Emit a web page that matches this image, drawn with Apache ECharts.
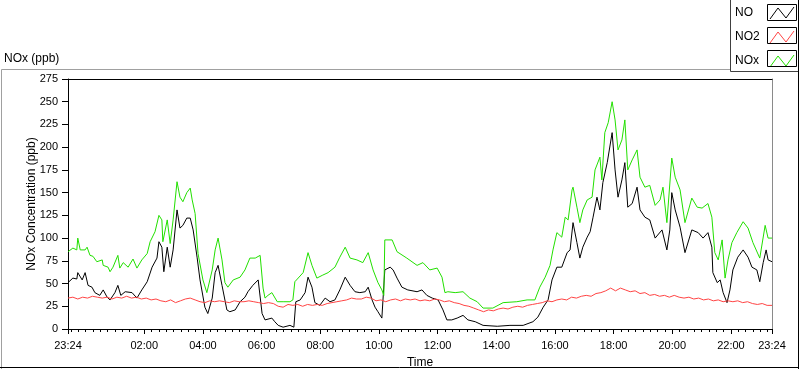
<!DOCTYPE html>
<html><head><meta charset="utf-8">
<script src="https://cdn.jsdelivr.net/npm/echarts@6/dist/echarts.min.js"></script>
<style>html,body{margin:0;padding:0;background:#fff}#c{width:800px;height:369px}</style>
</head><body><div id="c"></div>
<script>
// time values are minutes after the first sample (23:24)
const startClock = 23 * 60 + 24;
const seriesNames = ['NO', 'NO2', 'NOx'];
const seriesColors = ['#000000', '#ff4444', '#22e000'];
const xLabelMinutes = [0, 156, 276, 396, 516, 636, 756, 876, 996, 1116, 1236, 1356, 1440];
const yMin = 0, yMax = 275, yStep = 25;

const noData = [[0,51],[10,56],[18,55],[20,62],[29,54],[35,62],[41,48],[49,46],[55,40],[65,37],[72,43],[80,35],[86,32],[96,40],[102,48],[108,37],[117,41],[131,40],[141,34],[151,43],[162,52],[172,68],[182,78],[186,96],[192,90],[196,63],[203,90],[209,68],[215,87],[223,131],[229,111],[235,114],[243,122],[250,122],[256,109],[264,79],[270,54],[280,24],[286,17],[295,34],[301,62],[307,70],[315,48],[325,21],[331,19],[342,21],[352,30],[362,35],[368,41],[378,48],[389,54],[393,52],[397,17],[403,10],[407,10],[417,12],[423,8],[430,4],[440,2],[454,4],[462,2],[466,30],[475,32],[485,40],[491,57],[499,46],[505,29],[515,26],[526,34],[536,30],[546,32],[556,43],[567,57],[577,48],[587,41],[597,40],[608,41],[614,46],[622,32],[628,24],[634,19],[642,12],[646,13],[648,65],[659,68],[665,65],[673,56],[683,46],[695,43],[714,41],[724,43],[734,37],[745,34],[757,32],[767,21],[775,10],[785,10],[796,12],[808,15],[818,10],[833,8],[849,4],[878,3],[904,4],[931,4],[951,8],[961,13],[972,24],[982,32],[990,54],[1000,68],[1010,68],[1021,84],[1027,87],[1033,117],[1041,95],[1047,78],[1053,90],[1062,101],[1068,107],[1074,123],[1082,145],[1088,131],[1094,161],[1103,183],[1113,216],[1119,175],[1125,145],[1133,164],[1139,183],[1145,134],[1154,138],[1164,156],[1170,131],[1180,123],[1190,120],[1201,100],[1215,109],[1225,87],[1231,109],[1235,150],[1242,131],[1252,112],[1262,84],[1276,109],[1289,106],[1299,100],[1309,106],[1317,90],[1319,62],[1328,51],[1334,54],[1340,40],[1348,29],[1354,43],[1360,65],[1370,79],[1381,87],[1391,79],[1399,68],[1409,65],[1415,52],[1422,73],[1428,87],[1432,76],[1440,74]];

const no2Data = [[0,34],[10,35],[20,33],[30,35],[40,34],[50,36],[60,35],[70,34],[80,35],[90,33],[100,35],[110,34],[120,36],[130,34],[140,35],[150,33],[160,34],[170,32],[180,33],[190,31],[200,30],[210,32],[220,29],[230,31],[240,33],[250,34],[260,32],[270,30],[280,29],[290,31],[300,30],[310,31],[320,30],[330,29],[340,31],[350,30],[360,30],[370,31],[380,30],[390,29],[400,28],[410,29],[420,28],[430,25],[440,24],[450,27],[460,26],[470,27],[480,25],[490,27],[500,26],[510,27],[520,26],[530,28],[540,29],[550,30],[560,31],[570,32],[580,34],[590,33],[600,33],[610,35],[620,34],[630,31],[640,32],[650,30],[660,32],[670,33],[680,31],[690,33],[700,32],[710,33],[720,31],[730,32],[740,31],[750,33],[760,32],[770,30],[780,31],[790,29],[800,28],[810,26],[820,25],[830,23],[840,21],[850,19],[860,21],[870,20],[880,22],[890,23],[900,22],[910,24],[920,25],[930,24],[940,26],[950,27],[960,28],[970,29],[980,31],[990,30],[1000,32],[1010,33],[1020,32],[1030,35],[1040,34],[1050,36],[1060,37],[1070,36],[1080,39],[1090,40],[1100,42],[1110,45],[1120,42],[1130,45],[1140,43],[1150,41],[1160,42],[1170,39],[1180,40],[1190,37],[1200,38],[1210,36],[1220,37],[1230,35],[1240,37],[1250,35],[1260,34],[1270,35],[1280,33],[1290,34],[1300,32],[1310,33],[1320,31],[1330,32],[1340,30],[1350,31],[1360,30],[1370,31],[1380,29],[1390,30],[1400,28],[1410,27],[1420,28],[1430,26],[1440,26]];

const noxData = [[0,85],[10,89],[18,87],[20,100],[25,87],[35,87],[39,90],[45,81],[51,80],[59,74],[70,76],[72,70],[82,68],[86,63],[92,68],[102,81],[106,67],[113,73],[123,68],[133,77],[141,67],[151,76],[162,83],[168,96],[178,107],[182,109],[186,125],[192,120],[194,96],[203,120],[209,94],[215,120],[223,162],[229,145],[235,140],[243,150],[250,155],[254,142],[260,127],[266,83],[276,54],[284,40],[295,65],[301,87],[307,100],[315,76],[321,51],[327,46],[338,54],[352,57],[362,65],[372,78],[383,78],[393,81],[395,80],[399,45],[403,34],[409,37],[417,40],[428,30],[440,30],[454,30],[460,32],[464,52],[481,62],[491,84],[499,70],[509,56],[520,59],[532,62],[546,68],[556,79],[567,90],[577,78],[591,76],[603,73],[614,84],[624,65],[634,51],[642,43],[646,37],[648,98],[663,98],[673,85],[693,78],[714,70],[726,73],[740,65],[755,67],[765,57],[771,40],[777,41],[792,40],[808,41],[822,34],[837,30],[849,23],[869,23],[890,29],[918,30],[939,32],[955,32],[965,46],[976,57],[986,70],[992,87],[1000,106],[1010,101],[1017,123],[1023,120],[1031,153],[1033,156],[1041,134],[1047,117],[1053,131],[1062,142],[1072,145],[1078,175],[1088,189],[1092,164],[1098,216],[1105,227],[1113,250],[1119,230],[1125,197],[1133,208],[1139,230],[1145,175],[1154,186],[1164,197],[1170,167],[1180,156],[1190,158],[1201,136],[1211,142],[1217,156],[1225,117],[1235,188],[1242,167],[1252,153],[1262,117],[1276,144],[1287,134],[1297,133],[1309,138],[1317,123],[1323,84],[1330,76],[1338,98],[1344,56],[1350,76],[1358,95],[1368,106],[1381,118],[1391,111],[1401,95],[1415,78],[1426,114],[1432,100],[1440,100]];

const seriesData = [noData, no2Data, noxData];

const FONT = 'Liberation Sans';
const xMinorTicks = [];
for (let m = 6; m < 1440; m += 15) xMinorTicks.push(m);

function clockLabel(v) {
  const m = ((Math.round(v) + startClock) % 1440 + 1440) % 1440;
  const h = Math.floor(m / 60), mm = m % 60;
  return String(h).padStart(2, '0') + ':' + String(mm).padStart(2, '0');
}

const chart = echarts.init(document.getElementById('c'), null, {renderer: 'canvas'});
const xBase = {type: 'value', min: 0, max: 1440, splitLine: {show: false}};
chart.setOption({
  backgroundColor: '#ffffff',
  animation: false,
  textStyle: {fontFamily: FONT},
  title: {
    text: 'NOx (ppb)', left: 4, top: 53, padding: 0,
    textStyle: {fontSize: 12, fontWeight: 'normal', color: '#000', fontFamily: FONT}
  },
  legend: {
    orient: 'vertical', left: 735, top: 6.5, padding: 0, itemGap: 11,
    itemWidth: 24, itemHeight: 12, align: 'right', selectedMode: false,
    icon: 'path://M0,12L8,1L16,11L24,0',
    formatter: n => '{t|' + n + '}',
    textStyle: {
      fontSize: 12, color: '#000', fontFamily: FONT, lineHeight: 12,
      rich: {t: {width: 30, align: 'left', fontSize: 12, lineHeight: 12, fontFamily: FONT, color: '#000'}}
    },
    data: seriesNames.map((n, i) => ({
      name: n,
      itemStyle: {color: 'rgba(0,0,0,0)', borderColor: seriesColors[i], borderWidth: 1}
    }))
  },
  grid: {left: 68, right: 28, top: 79, bottom: 40, containLabel: false, outerBoundsMode: 'none'},
  xAxis: [
    Object.assign({}, xBase, {
      position: 'bottom',
      axisLine: {show: true, onZero: false, lineStyle: {color: '#000', width: 1}},
      axisTick: {show: true, length: 5, customValues: xLabelMinutes, lineStyle: {color: '#000'}},
      axisLabel: {show: true, customValues: xLabelMinutes, formatter: clockLabel, margin: 11,
        fontSize: 11, color: '#000', fontFamily: FONT},
      name: 'Time', nameLocation: 'middle', nameGap: 28, nameMoveOverlap: false,
      nameTextStyle: {fontSize: 12, color: '#000', fontFamily: FONT}
    }),
    Object.assign({}, xBase, {
      position: 'bottom',
      axisLine: {show: false, onZero: false},
      axisTick: {show: true, length: 3, customValues: xMinorTicks, lineStyle: {color: '#000'}},
      axisLabel: {show: false}
    }),
    Object.assign({}, xBase, {
      position: 'top',
      axisLine: {show: true, onZero: false, lineStyle: {color: '#000'}},
      axisTick: {show: false}, axisLabel: {show: false}
    })
  ],
  yAxis: [
    {
      type: 'value', min: yMin, max: yMax, interval: yStep, position: 'left',
      axisLine: {show: true, onZero: false, lineStyle: {color: '#000'}},
      axisTick: {show: true, length: 6, lineStyle: {color: '#000'}},
      axisLabel: {fontSize: 11, color: '#000', margin: 10, fontFamily: FONT},
      splitLine: {show: false},
      name: 'NOx Concentration (ppb)', nameLocation: 'middle', nameGap: 30, nameMoveOverlap: false,
      nameTextStyle: {fontSize: 12, color: '#000', fontFamily: FONT}
    },
    {
      type: 'value', min: yMin, max: yMax, position: 'right',
      axisLine: {show: true, onZero: false, lineStyle: {color: '#8a8a8a'}},
      axisTick: {show: false}, axisLabel: {show: false}, splitLine: {show: false}
    }
  ],
  series: seriesNames.map((n, i) => ({
    name: n, type: 'line', xAxisIndex: 0, yAxisIndex: 0,
    data: seriesData[i], symbol: 'none', showSymbol: false,
    lineStyle: {color: seriesColors[i], width: 1}, itemStyle: {color: seriesColors[i]},
    z: 2 + i
  })),
  graphic: [
    {type: 'polyline', shape: {points: [[1.5, 369], [1.5, 69.5], [730.5, 69.5]]}, style: {stroke: '#a0a0a0', fill: null, lineWidth: 1}, z: 100},
    {type: 'polyline', shape: {points: [[730.5, 0], [730.5, 71.5], [799, 71.5]]}, style: {stroke: '#404040', fill: null, lineWidth: 1}, z: 100},
    {type: 'line', shape: {x1: 798.5, y1: 0, x2: 798.5, y2: 369}, style: {stroke: '#000', lineWidth: 1}, z: 100},
    {type: 'line', shape: {x1: 0, y1: 367.5, x2: 799, y2: 367.5}, style: {stroke: '#000', lineWidth: 1}, z: 100},
    {type: 'rect', shape: {x: 767.5, y: 4.5, width: 29, height: 16}, style: {stroke: '#000', fill: null, lineWidth: 1}, z: 100},
    {type: 'rect', shape: {x: 767.5, y: 27.5, width: 29, height: 16}, style: {stroke: '#000', fill: null, lineWidth: 1}, z: 100},
    {type: 'rect', shape: {x: 767.5, y: 50.5, width: 29, height: 16}, style: {stroke: '#000', fill: null, lineWidth: 1}, z: 100}
  ]
});
</script></body></html>
